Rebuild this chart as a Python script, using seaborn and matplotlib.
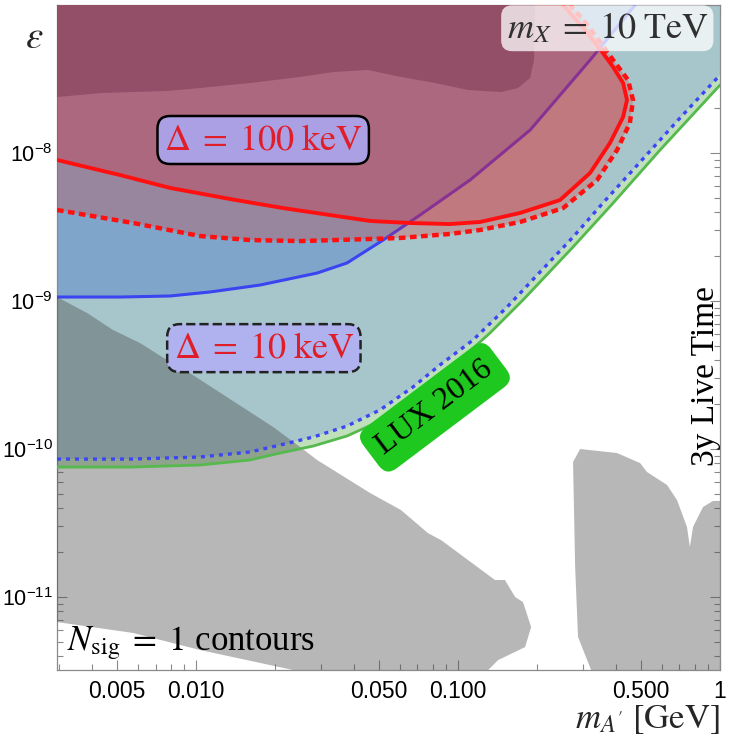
import numpy as np
import matplotlib
matplotlib.use('Agg')
import matplotlib.pyplot as plt
from matplotlib.ticker import LogLocator, NullFormatter
import seaborn as sns

# digitised contours: log10(m_A' / GeV) and log10(epsilon)
red_solid_logm = [-2.531, -2.290, -2.099, -1.870, -1.668, -1.489, -1.336, -1.183, -1.031, -0.916,
                  -0.763, -0.611, -0.496, -0.420, -0.370, -0.355, -0.370, -0.408, -0.447, -0.515, -0.599]
red_solid_logeps = [-8.047, -8.149, -8.236, -8.311, -8.372, -8.419, -8.459, -8.473, -8.480, -8.466,
                    -8.405, -8.318, -8.135, -7.932, -7.757, -7.642, -7.527, -7.419, -7.324, -7.169, -7.0]

red_dot_logm = [-2.531, -2.240, -1.985, -1.794, -1.603, -1.336, -1.221, -1.031, -0.916, -0.763,
                -0.599, -0.469, -0.393, -0.344, -0.332, -0.351, -0.408, -0.458, -0.515, -0.573]
red_dot_logeps = [-8.385, -8.473, -8.561, -8.588, -8.595, -8.581, -8.574, -8.547, -8.520, -8.466,
                  -8.372, -8.182, -7.980, -7.797, -7.642, -7.507, -7.372, -7.250, -7.115, -7.0]

blue_solid_logm = [-2.531, -2.290, -2.099, -1.947, -1.756, -1.538, -1.424, -1.286, -1.145, -0.954,
                   -0.725, -0.496, -0.324]
blue_solid_logeps = [-8.973, -8.973, -8.966, -8.939, -8.892, -8.811, -8.743, -8.588, -8.419, -8.182,
                     -7.845, -7.372, -7.0]

blue_dot_logm = [-2.531, -2.252, -1.985, -1.794, -1.679, -1.553, -1.424, -1.298, -1.172, -1.069,
                 -0.943, -0.813, -0.687, -0.561, -0.447, -0.305, -0.153, 0.0]
blue_dot_logeps = [-10.068, -10.068, -10.054, -10.020, -9.973, -9.919, -9.845, -9.736, -9.581, -9.432,
                   -9.264, -9.041, -8.804, -8.568, -8.338, -8.061, -7.764, -7.473]

lux_logm = [-2.531, -2.252, -1.985, -1.794, -1.679, -1.553, -1.424, -1.298, -1.172, -1.069,
            -0.878, -0.752, -0.561, -0.408, -0.229, 0.0]
lux_logeps = [-10.122, -10.122, -10.108, -10.074, -10.027, -9.980, -9.912, -9.811, -9.655, -9.520,
              -9.216, -8.993, -8.635, -8.338, -7.980, -7.541]

# existing bounds
top_logm = [-2.531, -2.366, -2.111, -1.985, -1.794, -1.603, -1.477, -1.344, -1.218, -1.088,
            -0.962, -0.836, -0.771, -0.725, -0.710, -0.706]
top_logeps = [-7.622, -7.595, -7.581, -7.561, -7.527, -7.486, -7.453, -7.439, -7.486, -7.527,
              -7.574, -7.588, -7.561, -7.493, -7.372, -7.0]

gray1_logm = [-2.531, -2.416, -2.317, -2.214, -2.111, -2.042, -1.706, -1.603, -1.538, -1.336,
              -1.218, -1.115, -1.065, -0.859, -0.821, -0.782, -0.752, -0.721, -0.744, -0.847,
              -0.885, -1.630, -1.985, -2.240, -2.531]
gray1_logeps = [-8.973, -9.081, -9.196, -9.284, -9.399, -9.466, -9.851, -9.986, -10.074, -10.297,
                -10.412, -10.568, -10.615, -10.885, -10.885, -11.0, -11.034, -11.203, -11.338, -11.426,
                -11.493, -11.493, -11.358, -11.243, -11.169]

gray2_logm = [-0.561, -0.534, -0.393, -0.305, -0.279, -0.202, -0.164, -0.126, -0.115, -0.103,
              -0.065, -0.027, 0.0, 0.0, -0.492, -0.542, -0.553]
gray2_logeps = [-10.088, -10.0, -10.027, -10.095, -10.155, -10.243, -10.345, -10.527, -10.662, -10.527,
                -10.392, -10.351, -10.351, -11.493, -11.493, -11.270, -10.797]

x_ticks = [0.005, 0.01, 0.05, 0.1, 0.5, 1]
x_ticklabels = ['0.005', '0.010', '0.050', '0.100', '0.500', '1']
y_ticks = [1e-11, 1e-10, 1e-9, 1e-8]

xmin, xmax = 10**-2.531, 1.0
ymin, ymax = 10**-11.493, 1e-7


def pts(lm, le):
    return 10**np.array(lm), 10**np.array(le)


sns.set_theme(style='ticks')
plt.rcParams['font.family'] = ['Liberation Sans', 'DejaVu Sans']
plt.rcParams['mathtext.fontset'] = 'stix'
serif = ['Liberation Serif', 'STIXGeneral']

fig = plt.figure(figsize=(7.38, 7.46), dpi=100)
ax = fig.add_axes([57 / 738, 76 / 746, 663 / 738, 665 / 746])
ax.set_xscale('log')
ax.set_yscale('log')

rs_m, rs_e = pts(red_solid_logm, red_solid_logeps)
rd_m, rd_e = pts(red_dot_logm, red_dot_logeps)
bs_m, bs_e = pts(blue_solid_logm, blue_solid_logeps)
bd_m, bd_e = pts(blue_dot_logm, blue_dot_logeps)
lx_m, lx_e = pts(lux_logm, lux_logeps)
tp_m, tp_e = pts(top_logm, top_logeps)
g1_m, g1_e = pts(gray1_logm, gray1_logeps)
g2_m, g2_e = pts(gray2_logm, gray2_logeps)

# filled regions
ax.fill_between(bd_m, bd_e, ymax, color='#a7c6cc', lw=0, zorder=1)
ax.fill(np.r_[lx_m, bd_m[::-1]], np.r_[lx_e, bd_e[::-1]], color='#bfe0bb', lw=0, zorder=1)
ax.fill_between(bs_m, bs_e, ymax, color=(55/255, 107/255, 201/255), alpha=0.35, lw=0, zorder=2)
ax.fill(np.r_[rd_m, xmin], np.r_[rd_e, ymax], color=(230/255, 35/255, 30/255), alpha=0.25, lw=0, zorder=4)
ax.fill(np.r_[rs_m, xmin], np.r_[rs_e, ymax], color=(225/255, 29/255, 46/255), alpha=0.28, lw=0, zorder=4)
ax.fill(np.r_[tp_m, xmin], np.r_[tp_e, ymax], color='#934f68', lw=0, zorder=5)
ax.fill(g1_m, g1_e, color='#444444', alpha=0.38, lw=0, zorder=5)
ax.fill(g2_m, g2_e, color='#444444', alpha=0.38, lw=0, zorder=5)

# contour lines
sns.lineplot(x=bs_m, y=bs_e, ax=ax, sort=False, estimator=None, color='#3a44f0', lw=2.2, zorder=3)
sns.lineplot(x=lx_m, y=lx_e, ax=ax, sort=False, estimator=None, color='#55b94e', lw=2.0, zorder=6)
sns.lineplot(x=bd_m, y=bd_e, ax=ax, sort=False, estimator=None, color='#3c46f5', lw=2.4,
             linestyle=(0, (1.2, 1.5)), dash_capstyle='butt', zorder=6)
sns.lineplot(x=rd_m, y=rd_e, ax=ax, sort=False, estimator=None, color='#ff1010', lw=3.2,
             linestyle=(0, (1.5, 1.0)), dash_capstyle='butt', zorder=6)
sns.lineplot(x=rs_m, y=rs_e, ax=ax, sort=False, estimator=None, color='#ff1010', lw=2.8, zorder=6)

ax.set_xlim(xmin, xmax)
ax.set_ylim(ymin, ymax)

# labels
ax.text(0.311, 0.797, r'$\Delta\;=\;100\;\mathrm{keV}$', transform=ax.transAxes, ha='center', va='center',
        fontsize=26, color='#e01e2a', zorder=8,
        bbox=dict(boxstyle='round,pad=0.18,rounding_size=0.35', fc='#aca0e4', ec='black', lw=1.8))
ax.text(0.312, 0.484, r'$\Delta\;=\;10\;\mathrm{keV}$', transform=ax.transAxes, ha='center', va='center',
        fontsize=26, color='#e01e2a', zorder=8,
        bbox=dict(boxstyle='round,pad=0.18,rounding_size=0.35', fc='#b0b2f0', ec='#222222', lw=1.8, ls='--'))
ax.text(0.83, 0.965, r'$m_X\;=\;10\;\mathrm{TeV}$', transform=ax.transAxes, ha='center', va='center',
        fontsize=26, color='#303030', zorder=9,
        bbox=dict(boxstyle='round,pad=0.15,rounding_size=0.3', fc=(1, 1, 1, 0.75), ec='none'))
ax.text(0.57, 0.395, 'LUX 2016', transform=ax.transAxes, ha='center', va='center', rotation=37,
        fontsize=23, family=serif, color='black', zorder=8,
        bbox=dict(boxstyle='round,pad=0.35,rounding_size=0.4', fc='#1ec81e', ec='none'))
ax.text(0.015, 0.03, r'$N_{\mathrm{sig}}\;=\;1$ contours', transform=ax.transAxes, ha='left', va='baseline',
        fontsize=25, family=serif, color='black', zorder=8)
ax.text(0.979, 0.442, '3y Live Time', transform=ax.transAxes, ha='center', va='center', rotation=90,
        fontsize=24, family=serif, color='black', zorder=8)
fig.text(0.047, 0.949, r'$\varepsilon$', ha='center', va='center', fontsize=28)
fig.text(0.976, 0.0576, r'$m_{A^{\prime}}\;[\mathrm{GeV}]$', ha='right', va='top', fontsize=25)

# ticks and frame
ax.set_xticks(x_ticks)
ax.set_xticklabels(x_ticklabels)
ax.xaxis.set_minor_locator(LogLocator(base=10, subs=np.arange(2, 10)))
ax.xaxis.set_minor_formatter(NullFormatter())
ax.set_yticks(y_ticks)
ax.yaxis.set_minor_locator(LogLocator(base=10, subs=np.arange(2, 10)))
ax.yaxis.set_minor_formatter(NullFormatter())
ax.tick_params(which='both', direction='in', color='#8a8a8a', labelcolor='black',
               top=True, right=True, width=0.8)
ax.tick_params(which='major', length=7)
ax.tick_params(which='minor', length=4)
ax.tick_params(axis='x', pad=7, labelsize=16.5)
ax.tick_params(axis='y', pad=3, labelsize=15.5)
for s in ax.spines.values():
    s.set_color('#8a8a8a')
    s.set_linewidth(0.9)
ax.set_xlabel('')
ax.set_ylabel('')

fig.savefig('out.png', dpi=100)
